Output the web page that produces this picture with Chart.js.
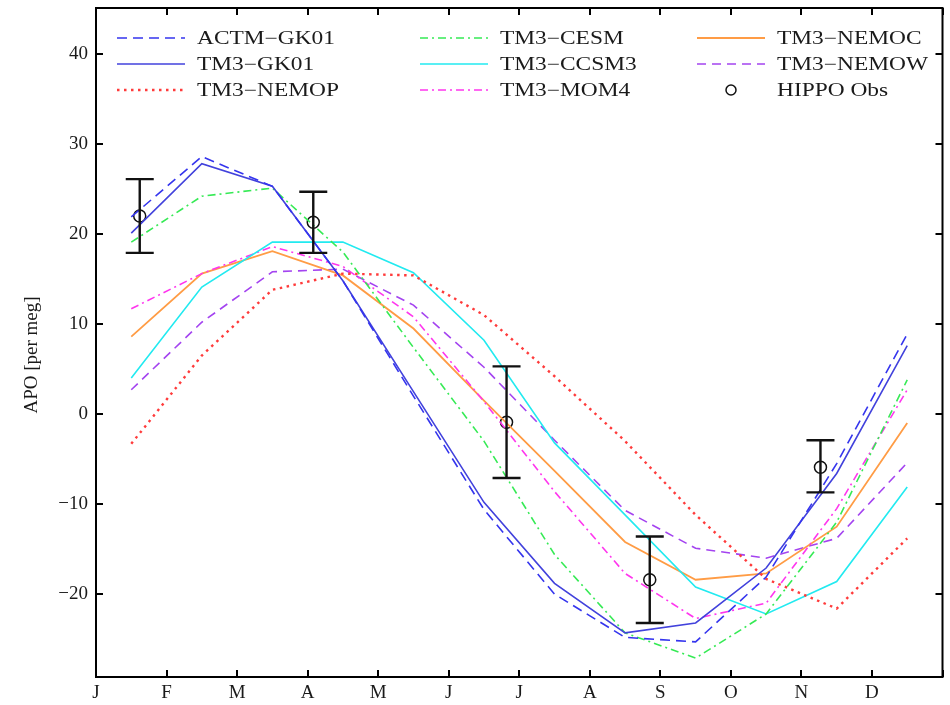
<!DOCTYPE html>
<html>
<head>
<meta charset="utf-8">
<script src="https://cdn.jsdelivr.net/npm/chart.js@4.4.1/dist/chart.umd.min.js"></script>
<style>
  html, body { margin: 0; padding: 0; background: #fff; }
  #wrap { width: 950px; height: 705px; }
</style>
</head>
<body>
<div id="wrap"><canvas id="apoChart" width="950" height="705"></canvas></div>
<script>
// months on x (0 = start of Jan, 12 = end of Dec)
const monthLabels = ['J', 'F', 'M', 'A', 'M', 'J', 'J', 'A', 'S', 'O', 'N', 'D', ''];
const monthTicks = [0, 1, 2, 3, 4, 5, 6, 7, 8, 9, 10, 11, 12];
const monthMid = [0.5, 1.5, 2.5, 3.5, 4.5, 5.5, 6.5, 7.5, 8.5, 9.5, 10.5, 11.5];
const apoTicks = [-20, -10, 0, 10, 20, 30, 40];

// model seasonal cycles of APO (per meg)
const actmGk01 = [21.9, 28.6, 25.3, 14.8, 2.0, -10.6, -20.0, -24.8, -25.3, -18.1, -5.5, 8.9];
const tm3Gk01  = [20.1, 27.8, 25.3, 14.8, 2.5, -9.8, -18.8, -24.3, -23.2, -17.1, -6.6, 7.6];
const tm3Nemop = [-3.3, 6.5, 13.8, 15.6, 15.4, 11.0, 4.2, -3.0, -11.2, -18.3, -21.6, -13.8];
const tm3Cesm  = [19.1, 24.2, 25.1, 18.0, 7.4, -3.0, -15.6, -24.3, -27.1, -22.2, -12.0, 3.8];
const tm3Ccsm3 = [4.0, 14.1, 19.1, 19.1, 15.7, 8.2, -3.2, -11.2, -19.2, -22.2, -18.6, -8.1];
const tm3Mom4  = [11.7, 15.6, 18.6, 16.4, 10.8, 1.4, -8.6, -17.7, -22.7, -21.0, -10.5, 2.7];
const tm3Nemoc = [8.6, 15.6, 18.1, 15.4, 9.5, 1.5, -6.3, -14.2, -18.4, -17.7, -12.5, -1.0];
const tm3Nemow = [2.7, 10.2, 15.8, 16.1, 12.1, 5.2, -2.9, -10.7, -14.9, -16.0, -13.8, -5.4];

// HIPPO observations with error bars
const obsMonth = [0.62, 3.08, 5.82, 7.85, 10.27];
const obsApo   = [22.0, 21.3, -0.9, -18.4, -5.9];
const obsLow   = [17.9, 17.9, -7.1, -23.2, -8.7];
const obsHigh  = [26.1, 24.7, 5.3, -13.6, -2.9];

const yTitle = 'APO [per meg]';

const SERIF = '"Liberation Serif", "DejaVu Serif", serif';

const toPoints = (xs, ys) => xs.map((x, i) => ({ x: x, y: ys[i] }));

function modelLine(label, data, color, dash, slot, width) {
    return {
        label: label,
        data: toPoints(monthMid, data),
        showLine: true,
        borderColor: color,
        backgroundColor: color,
        borderWidth: width || 1.6,
        borderDash: dash,
        borderCapStyle: 'butt',
        pointRadius: 0,
        pointHoverRadius: 0,
        tension: 0,
        legendSlot: slot
    };
}

const datasets = [
    modelLine('ACTM\u2212GK01', actmGk01, '#3535ee', [10, 6], 0),
    modelLine('TM3\u2212GK01', tm3Gk01, '#4242dc', [], 1),
    modelLine('TM3\u2212NEMOP', tm3Nemop, '#ff3b3b', [2.5, 4.5], 2, 2.4),
    modelLine('TM3\u2212CESM', tm3Cesm, '#36ea55', [8, 4, 2, 4], 3),
    modelLine('TM3\u2212CCSM3', tm3Ccsm3, '#22eaf0', [], 4),
    modelLine('TM3\u2212MOM4', tm3Mom4, '#ff36ee', [8, 4, 2, 4], 5),
    modelLine('TM3\u2212NEMOC', tm3Nemoc, '#ff9c45', [], 6, 1.8),
    modelLine('TM3\u2212NEMOW', tm3Nemow, '#a444f0', [9, 6], 7),
    {
        label: 'HIPPO Obs',
        data: toPoints(obsMonth, obsApo),
        showLine: false,
        pointStyle: 'circle',
        pointRadius: 6,
        pointHoverRadius: 6,
        pointBorderWidth: 1.5,
        pointBorderColor: '#111',
        pointBackgroundColor: 'rgba(0,0,0,0)',
        borderColor: '#111',
        legendSlot: 8
    }
];

// error bars for the observations, drawn through the chart's scales
const errorBars = {
    id: 'errorBars',
    afterDatasetsDraw(chart) {
        const { ctx, scales: { x, y } } = chart;
        ctx.save();
        ctx.strokeStyle = '#111';
        ctx.lineWidth = 2.4;
        obsMonth.forEach((m, i) => {
            const px = x.getPixelForValue(m);
            const top = y.getPixelForValue(obsHigh[i]);
            const bot = y.getPixelForValue(obsLow[i]);
            ctx.beginPath();
            ctx.moveTo(px, top); ctx.lineTo(px, bot);
            ctx.moveTo(px - 14, top); ctx.lineTo(px + 14, top);
            ctx.moveTo(px - 14, bot); ctx.lineTo(px + 14, bot);
            ctx.stroke();
        });
        ctx.restore();
    }
};

// boxed frame with inward ticks on all four sides, plus the y title
const frameTicks = {
    id: 'frameTicks',
    afterDraw(chart) {
        const { ctx, chartArea: a, scales: { x, y } } = chart;
        const len = 7;
        ctx.save();
        ctx.strokeStyle = '#000';
        ctx.lineWidth = 2;
        ctx.strokeRect(a.left, a.top, a.right - a.left, a.bottom - a.top);
        ctx.beginPath();
        monthTicks.forEach(m => {
            const px = Math.round(x.getPixelForValue(m));
            ctx.moveTo(px, a.bottom); ctx.lineTo(px, a.bottom - len);
            ctx.moveTo(px, a.top); ctx.lineTo(px, a.top + len);
        });
        apoTicks.forEach(v => {
            const py = Math.round(y.getPixelForValue(v));
            ctx.moveTo(a.left, py); ctx.lineTo(a.left + len, py);
            ctx.moveTo(a.right, py); ctx.lineTo(a.right - len, py);
        });
        ctx.stroke();

        // title sits a little below the middle of the axis in the original
        ctx.translate(32, 355);
        ctx.rotate(-Math.PI / 2);
        ctx.font = '19px ' + SERIF;
        ctx.fillStyle = '#1a1a1a';
        ctx.textAlign = 'center';
        ctx.textBaseline = 'middle';
        ctx.fillText(yTitle, 0, 0);
        ctx.restore();
    }
};

// legend in three columns inside the plot, MATLAB style
// the source figure is stretched sideways, so the text is widened a bit
const boxLegend = {
    id: 'boxLegend',
    afterDraw(chart) {
        const ctx = chart.ctx;
        const colX = [117, 420, 697];
        const rowY = [38, 64, 90];
        const sampleLen = 68;
        const stretch = 1.3;
        ctx.save();
        ctx.font = '18px ' + SERIF;
        ctx.textBaseline = 'middle';
        ctx.textAlign = 'left';
        chart.data.datasets.forEach(ds => {
            const col = Math.floor(ds.legendSlot / 3);
            const row = ds.legendSlot % 3;
            const x0 = colX[col];
            const yy = rowY[row];
            if (ds.showLine) {
                ctx.strokeStyle = ds.borderColor;
                ctx.lineWidth = ds.borderWidth;
                ctx.setLineDash(ds.borderDash);
                ctx.lineCap = 'butt';
                ctx.beginPath();
                ctx.moveTo(x0, yy);
                ctx.lineTo(x0 + sampleLen, yy);
                ctx.stroke();
                ctx.setLineDash([]);
            } else {
                ctx.strokeStyle = '#111';
                ctx.lineWidth = 1.5;
                ctx.beginPath();
                ctx.arc(x0 + sampleLen / 2, yy, 5, 0, Math.PI * 2);
                ctx.stroke();
            }
            ctx.fillStyle = '#1a1a1a';
            ctx.save();
            ctx.translate(x0 + sampleLen + 12, yy + 1);
            ctx.scale(stretch, 1);
            ctx.fillText(ds.label, 0, 0);
            ctx.restore();
        });
        ctx.restore();
    }
};

new Chart(document.getElementById('apoChart'), {
    type: 'scatter',
    data: { datasets: datasets },
    plugins: [errorBars, frameTicks, boxLegend],
    options: {
        responsive: false,
        animation: false,
        devicePixelRatio: 1,
        layout: { padding: { left: 0, top: 8, right: 5, bottom: 0 } },
        plugins: {
            legend: { display: false },
            tooltip: { enabled: false }
        },
        scales: {
            x: {
                type: 'linear',
                min: 0,
                max: 12,
                grid: { display: false, drawTicks: false },
                border: { display: false },
                afterBuildTicks: s => { s.ticks = monthTicks.map(v => ({ value: v })); },
                afterFit: s => {
                    s.height = 28;
                    s.paddingLeft = 0;
                    s.paddingRight = 0;
                },
                ticks: {
                    autoSkip: false,
                    maxRotation: 0,
                    padding: 5,
                    color: '#1a1a1a',
                    font: { family: SERIF, size: 19 },
                    callback: v => monthLabels[v]
                }
            },
            y: {
                type: 'linear',
                min: -29.2,
                max: 45.1,
                grid: { display: false, drawTicks: false },
                border: { display: false },
                afterBuildTicks: s => { s.ticks = apoTicks.map(v => ({ value: v })); },
                afterFit: s => {
                    s.width = 96;
                    s.paddingTop = 0;
                    s.paddingBottom = 0;
                },
                ticks: {
                    padding: 8,
                    color: '#1a1a1a',
                    font: { family: SERIF, size: 19 },
                    callback: v => String(v).replace('-', '\u2212')
                }
            }
        }
    }
});
</script>
</body>
</html>
